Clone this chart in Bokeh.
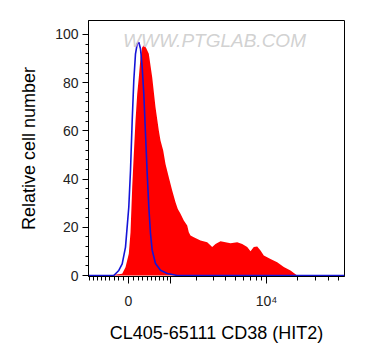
import numpy as np
from bokeh.plotting import figure
from bokeh.models import Range1d, FixedTicker, Label
from bokeh.embed import file_html
from bokeh.resources import INLINE

# ---- display transform (biexponential-like, in channel units) ----
B, C = 45.0, 933.0
def biex(v):
    return np.round(B * np.arcsinh(np.asarray(v, dtype=float) / C), 3)

# ---- axis ticks ----
x_major_values = [0, 1000, 10000]
x_major_labels = ["0", "", "10⁴"]
x_minor_values = ([-v for v in range(100, 1100, 100)] + list(range(100, 1000, 100))
                  + list(range(2000, 10000, 1000)) + list(range(20000, 60000, 10000)))
y_ticks = [0, 20, 40, 60, 80, 100]
y_minor = list(range(0, 101, 4))

# ---- histogram data (x in display channels, y = relative cell number) ----
red_x = [-40, -20, -6.3, -3, 0.3, 2, 3.7, 5.3, 7, 8.7, 10.3, 12, 13.7, 15.5,
         17.5, 20.3, 23.7, 27, 30.3, 32, 34.7, 37, 40.3, 43.7, 47, 49.3, 52, 55.3,
         58.7, 60.3, 62, 65.3, 72, 78.7, 83.7, 87, 92, 97, 102, 108.7, 113.7,
         118.7, 122, 125.3, 128.7, 132, 135.3, 142, 148.7, 155.3, 162, 168.7, 216]
red_y = [0, 0, 0.7, 3.4, 9, 17.8, 36.6, 50.4, 64.2, 75.2, 82.2, 90.5, 94.7, 95.5,
         94.5, 92, 82.3, 69.8, 60.2, 56, 51.9, 46.3, 40.8, 35.3, 30.4, 27.6, 25.6, 22.8,
         20.7, 18, 16.6, 15.9, 14.5, 13.8, 11.8, 13.1, 14.2, 13.8, 13.4, 13.8, 13.1,
         11.8, 10.1, 11.8, 12, 10.4, 8.3, 6.9, 5.5, 3.5, 2.1, 0, 0]

blue_x = [-40, -14.7, -9.7, -6.3, -3, 0.3, 2, 3.7, 5.3, 7, 8.7, 10.3, 12, 13.7,
          15.3, 17, 18.7, 20.3, 22, 23.7, 27, 32, 38.7, 48.7, 216]
blue_y = [0, 0, 2.1, 4.8, 11.8, 28.4, 43.6, 64.3, 80.9, 92, 96.1, 96.8, 94.1, 86.4,
          75.4, 58.8, 42.3, 28.5, 17.4, 10.5, 5, 2.2, 0.8, 0, 0]

x_title = "CL405-65111 CD38 (HIT2)"
y_title = "Relative cell number"
watermark = "WWW.PTGLAB.COM"

FONT = "Liberation Sans"

p = figure(width=357, height=352, output_backend="svg", toolbar_location=None,
           x_range=Range1d(-40, 216), y_range=Range1d(-0.41, 105.8),
           min_border_left=88, min_border_right=13, min_border_top=20,
           min_border_bottom=76)
p.grid.visible = False
p.outline_line_color = "black"
p.outline_line_width = 1
p.background_fill_color = "white"
p.border_fill_color = "white"

p.varea(x=red_x, y1=0, y2=red_y, fill_color="#ff0000")
p.line(x=blue_x, y=blue_y, line_color="#1414d8", line_width=1.6)

wm = Label(x=86, y=97.5, text=watermark, text_align="center", text_baseline="middle",
           text_font=FONT, text_font_size="19px", text_font_style="italic",
           text_color="#cccccc", text_alpha=0.9)
p.add_layout(wm)

# x axis
xmaj = [float(v) for v in biex(x_major_values)]
p.xaxis.ticker = FixedTicker(ticks=xmaj, minor_ticks=[float(v) for v in biex(x_minor_values)])
p.xaxis.major_label_overrides = {t: lab for t, lab in zip(xmaj, x_major_labels)}
p.xaxis.major_label_text_align = "left"
p.xaxis.major_tick_out = 7
p.xaxis.major_tick_in = 0
p.xaxis.minor_tick_out = 4
p.xaxis.minor_tick_in = 0
p.xaxis.major_label_standoff = 9
p.xaxis.axis_label = x_title
p.xaxis.axis_label_standoff = 11

# y axis
p.yaxis.ticker = FixedTicker(ticks=y_ticks, minor_ticks=y_minor)
p.yaxis.major_tick_out = 6
p.yaxis.major_tick_in = 0
p.yaxis.minor_tick_out = 3
p.yaxis.minor_tick_in = 0
p.yaxis.major_label_standoff = 4
p.yaxis.axis_label = y_title
p.yaxis.axis_label_standoff = 13

for ax in (p.xaxis, p.yaxis):
    ax.axis_line_color = "black"
    ax.major_tick_line_color = "black"
    ax.minor_tick_line_color = "black"
    ax.major_label_text_font = FONT
    ax.major_label_text_font_size = "14px"
    ax.major_label_text_color = "#222222"
    ax.axis_label_text_font = FONT
    ax.axis_label_text_font_size = "18px"
    ax.axis_label_text_font_style = "normal"
    ax.axis_label_text_color = "black"

open("out.html", "w").write(file_html(p, INLINE))
